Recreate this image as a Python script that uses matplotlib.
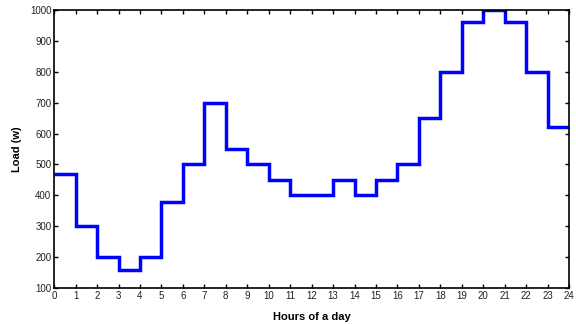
import matplotlib
matplotlib.use("Agg")
import matplotlib.pyplot as plt

hours = list(range(25))
load = [470, 300, 200, 160, 200, 380, 500, 700, 550, 500, 450, 400, 400,
        450, 400, 450, 500, 650, 800, 960, 1000, 960, 800, 620]
xticks = list(range(0, 25))
yticks = list(range(100, 1001, 100))

plt.rcParams['font.family'] = ['Liberation Sans', 'DejaVu Sans']
fig = plt.figure(figsize=(5.76, 3.24), dpi=100)
ax = fig.add_axes([0.094, 0.111, 0.894, 0.858])
ax.stairs(load, hours, color='#0000ff', linewidth=2.5, baseline=None)
ax.set_xlim(0, 24)
ax.set_ylim(100, 1000)
ax.set_xticks(xticks)
ax.set_yticks(yticks)
ax.tick_params(direction='in', top=True, right=True, length=3, width=1,
               labelsize=7, pad=2, colors='black', labelcolor='#222222')
for s in ax.spines.values():
    s.set_linewidth(1.2)
ax.set_xlabel('Hours of a day', fontsize=8, fontweight='bold', labelpad=8)
ax.set_ylabel('Load (w)', fontsize=8, fontweight='bold', labelpad=6)
fig.savefig('out.png', dpi=100)
